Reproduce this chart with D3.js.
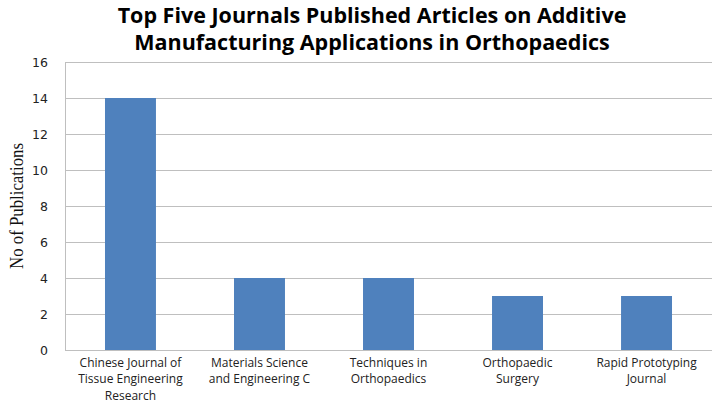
<!DOCTYPE html>
<html>
<head>
<meta charset="utf-8">
<script src="https://cdn.jsdelivr.net/npm/d3@7"></script>
<style>
  body { margin: 0; background: #fff; }
  svg { display: block; }
</style>
</head>
<body>
<svg id="chart" width="716" height="404"></svg>
<script>
// data
const journals = [
    ["Chinese Journal of", "Tissue Engineering", "Research"],
    ["Materials Science", "and Engineering C"],
    ["Techniques in", "Orthopaedics"],
    ["Orthopaedic", "Surgery"],
    ["Rapid Prototyping", "Journal"]
];
const publications = [14, 4, 4, 3, 3];
const yTicks = [0, 2, 4, 6, 8, 10, 12, 14, 16];

const margin = { top: 62, right: 4, bottom: 54, left: 65 };
const width = 716 - margin.left - margin.right;
const height = 404 - margin.top - margin.bottom;

const root = d3.select("#chart");
const svg = root.append("g")
    .attr("transform", `translate(${margin.left},${margin.top})`);

const xScale = d3.scaleBand()
    .domain(d3.range(journals.length))
    .range([0, width])
    .paddingInner(0.605)
    .paddingOuter(0.31);

const yScale = d3.scaleLinear()
    .domain([0, 16])
    .range([height, 0]);

// gridlines
svg.append("g")
    .selectAll("line")
    .data(yTicks)
    .join("line")
    .attr("x1", 0)
    .attr("x2", width)
    .attr("y1", d => Math.round(yScale(d)) + 0.5)
    .attr("y2", d => Math.round(yScale(d)) + 0.5)
    .attr("stroke", "#bfbfbf")
    .attr("stroke-width", 1);

// left axis line
svg.append("line")
    .attr("x1", 0.5).attr("x2", 0.5)
    .attr("y1", 0).attr("y2", height)
    .attr("stroke", "#bfbfbf");

// y tick labels
const yAxis = svg.append("g")
    .call(d3.axisLeft(yScale).tickValues(yTicks).tickSize(0).tickPadding(17));
yAxis.select(".domain").remove();
yAxis.selectAll("text")
    .attr("font-family", "DejaVu Sans, sans-serif")
    .attr("font-size", 12.5)
    .attr("fill", "#222");

// bars
svg.selectAll("rect.bar")
    .data(publications)
    .join("rect")
    .attr("class", "bar")
    .attr("x", (d, i) => xScale(i))
    .attr("y", d => yScale(d))
    .attr("width", xScale.bandwidth())
    .attr("height", d => height - yScale(d))
    .attr("fill", "#4f81bd");

// x category labels, one text per line
const labelLines = journals.flatMap((lines, i) =>
    lines.map((t, j) => ({ i, j, t })));
svg.append("g")
    .selectAll("text")
    .data(labelLines)
    .join("text")
    .attr("x", d => xScale(d.i) + xScale.bandwidth() / 2)
    .attr("y", d => height + 17 + d.j * 16.4)
    .attr("text-anchor", "middle")
    .attr("font-family", "Open Sans, sans-serif")
    .attr("font-size", 12)
    .attr("fill", "#222")
    .text(d => d.t);

// y axis title
root.append("text")
    .attr("transform", "translate(23,206) rotate(-90)")
    .attr("text-anchor", "middle")
    .attr("font-family", "Liberation Serif, serif")
    .attr("font-size", 18)
    .attr("textLength", 126)
    .attr("lengthAdjust", "spacingAndGlyphs")
    .attr("fill", "#111")
    .text("No of Publications");

// chart title
const title = ["Top Five Journals Published Articles on Additive",
               "Manufacturing Applications in Orthopaedics"];
root.append("g")
    .selectAll("text")
    .data(title)
    .join("text")
    .attr("x", 372)
    .attr("y", (d, i) => 23 + i * 27)
    .attr("text-anchor", "middle")
    .attr("font-family", "Open Sans, sans-serif")
    .attr("font-weight", "bold")
    .attr("font-size", 21.5)
    .attr("fill", "#000")
    .text(d => d);
</script>
</body>
</html>
